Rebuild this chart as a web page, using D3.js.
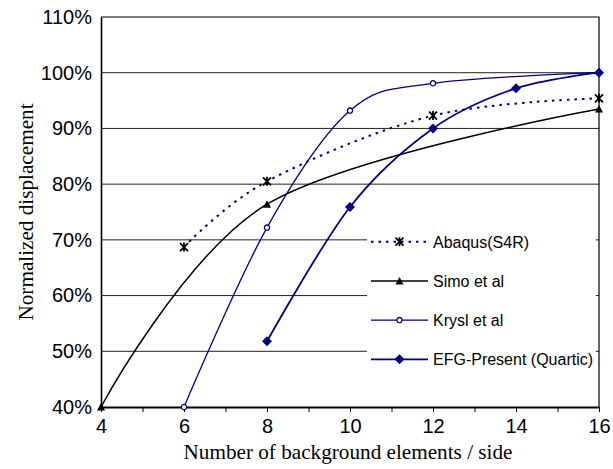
<!DOCTYPE html>
<html>
<head>
<meta charset="utf-8">
<script src="https://cdn.jsdelivr.net/npm/d3@7"></script>
<style>
  body { margin: 0; background: #fff; }
  svg { display: block; }
  .tick text { font-family: "Liberation Sans", Arial, sans-serif; font-size: 20px; fill: #000; }
  .title { font-family: "Liberation Serif", "Times New Roman", serif; font-size: 21.2px; fill: #000; }
  .legend text { font-family: "Liberation Sans", Arial, sans-serif; font-size: 16px; fill: #000; }
</style>
</head>
<body>
<svg id="chart" width="613" height="469"></svg>
<script>
// values (x = elements per side, y = % of reference)
const abaqusX = [6, 8, 12, 16]
const abaqusY = [68.7, 80.5, 92.3, 95.4]
const simoX = [4, 8, 16]
const simoY = [40, 76.4, 93.5]
const kryslX = [6, 8, 10, 12, 16]
const kryslY = [40, 72.2, 93.2, 98.1, 100]
const efgX = [8, 10, 12, 14, 16]
const efgY = [51.8, 75.9, 90.0, 97.2, 100]

const xTicks = [4, 6, 8, 10, 12, 14, 16]
const yTicks = [40, 50, 60, 70, 80, 90, 100, 110]

const navy = '#000080'

const series = [
  { name: 'Abaqus(S4R)', xs: abaqusX, ys: abaqusY, color: navy, width: 2, dash: '2.5,5', marker: 'star' },
  { name: 'Simo et al', xs: simoX, ys: simoY, color: '#000', width: 1.5, dash: null, marker: 'triangle' },
  { name: 'Krysl et al', xs: kryslX, ys: kryslY, color: navy, width: 1.3, dash: null, marker: 'circle' },
  { name: 'EFG-Present (Quartic)', xs: efgX, ys: efgY, color: navy, width: 1.8, dash: null, marker: 'diamond' }
]

const svg = d3.select('#chart')
const margin = { left: 101, right: 14, top: 17, bottom: 62 }
const width = +svg.attr('width')
const height = +svg.attr('height')

const x = d3.scaleLinear().domain([4, 16]).range([margin.left, width - margin.right])
const y = d3.scaleLinear().domain([40, 110]).range([height - margin.bottom, margin.top])

// gridlines
svg.append('g')
  .selectAll('line')
  .data(yTicks.filter(t => t > 40 && t < 110))
  .join('line')
  .attr('x1', x(4)).attr('x2', x(16))
  .attr('y1', d => y(d)).attr('y2', d => y(d))
  .attr('stroke', '#222')
  .attr('stroke-width', 1)

// plot frame (top + right)
svg.append('path')
  .attr('d', `M${x(4)},${y(110)}H${x(16)}V${y(40)}`)
  .attr('fill', 'none')
  .attr('stroke', '#000')
  .attr('stroke-width', 1.2)

// y axis
const yAxis = svg.append('g')
  .attr('transform', `translate(${x(4)},0)`)
  .call(d3.axisLeft(y).tickValues(yTicks).tickSize(0).tickPadding(9).tickFormat(d => d + '%'))
yAxis.select('.domain').attr('stroke', '#000').attr('stroke-width', 1.6)

// x axis, ticks every unit
const xAxis = svg.append('g')
  .attr('transform', `translate(0,${y(40)})`)
  .call(d3.axisBottom(x).tickValues(d3.range(4, 17, 1)).tickSize(5).tickSizeOuter(0).tickPadding(7)
    .tickFormat(d => xTicks.includes(d) ? d : ''))
xAxis.select('.domain').attr('stroke', '#000').attr('stroke-width', 2.2)
xAxis.selectAll('.tick line').attr('stroke', '#000')

// axis titles
svg.append('text')
  .attr('class', 'title')
  .attr('x', 348)
  .attr('y', 459)
  .attr('text-anchor', 'middle')
  .text('Number of background elements / side')

svg.append('text')
  .attr('class', 'title')
  .attr('transform', `translate(33,${(y(40) + y(110)) / 2}) rotate(-90)`)
  .attr('text-anchor', 'middle')
  .text('Normalized displacement')

// markers
function drawMarker (g, type, color) {
  if (type === 'star') {
    g.append('path')
      .attr('d', 'M-4,-4L4,4M-4,4L4,-4M0,-4.5V4.5')
      .attr('stroke', '#000').attr('stroke-width', 1.8).attr('fill', 'none')
  } else if (type === 'triangle') {
    g.append('path').attr('d', 'M0,-4L4,3.5L-4,3.5Z').attr('fill', '#000')
  } else if (type === 'circle') {
    g.append('circle').attr('r', 2.6).attr('fill', '#fff').attr('stroke', color).attr('stroke-width', 1.3)
  } else if (type === 'diamond') {
    g.append('path').attr('d', 'M0,-5L5,0L0,5L-5,0Z').attr('fill', color)
  }
}

const line = d3.line()
  .x(d => x(d[0]))
  .y(d => y(d[1]))
  .curve(d3.curveCatmullRom.alpha(0))

const plot = svg.append('g')
series.forEach(s => {
  const pts = s.xs.map((v, i) => [v, s.ys[i]])
  plot.append('path')
    .datum(pts)
    .attr('d', line)
    .attr('fill', 'none')
    .attr('stroke', s.color)
    .attr('stroke-width', s.width)
    .attr('stroke-dasharray', s.dash)
})
series.forEach(s => {
  s.xs.forEach((v, i) => {
    const g = plot.append('g').attr('transform', `translate(${x(v)},${y(s.ys[i])})`)
    drawMarker(g, s.marker, s.color)
  })
})

// legend
const legend = svg.append('g').attr('class', 'legend')
legend.append('rect')
  .attr('x', 367).attr('y', 222)
  .attr('width', 229).attr('height', 163)
  .attr('fill', '#fff')

const rows = legend.selectAll('g.row')
  .data(series)
  .join('g')
  .attr('class', 'row')
  .attr('transform', (d, i) => `translate(0,${241.7 + i * 39.2})`)

rows.append('line')
  .attr('x1', 371).attr('x2', 428)
  .attr('stroke', d => d.color)
  .attr('stroke-width', d => d.width)
  .attr('stroke-dasharray', d => d.dash)
rows.each(function (d) {
  const g = d3.select(this).append('g').attr('transform', 'translate(399.5,0)')
  drawMarker(g, d.marker, d.color)
})
rows.append('text')
  .attr('x', 433)
  .attr('y', 6)
  .text(d => d.name)
</script>
</body>
</html>
